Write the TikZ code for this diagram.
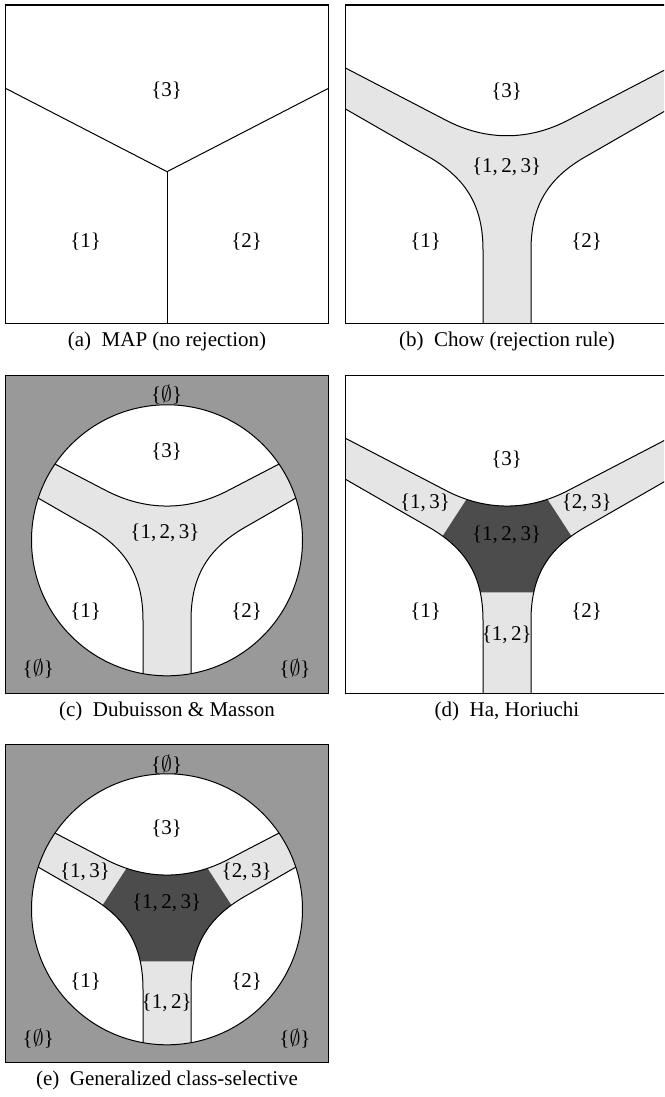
\documentclass[tikz,border=0pt]{standalone}
\usepackage{fontspec}
\setmainfont{Liberation Serif}
\definecolor{lightband}{gray}{0.9}
\definecolor{outergray}{gray}{0.6}
\definecolor{coregray}{gray}{0.3}
\tikzset{
  frame/.style={draw=black, line width=0.6pt},
  bound/.style={draw=black, line width=0.5pt},
  lab/.style={font=\fontsize{10.5}{12}\selectfont, inner sep=0pt},
  subcap/.style={font=\fontsize{10.5}{12}\selectfont, inner sep=0pt},
  upperc/.style={insert path={(0,63) -- (100,115) .. controls (140,136) and (183,136) .. (223,115) -- (323,63)}},
  lowerl/.style={insert path={(0,104) -- (80,150) .. controls (120,172) and (137.5,200) .. (137.5,245) -- (137.5,318.5)}},
  lowerr/.style={insert path={(323,104) -- (243,150) .. controls (203,172) and (185.5,200) .. (185.5,245) -- (185.5,318.5)}},
  bandshape/.style={insert path={(0,63) -- (100,115) .. controls (140,136) and (183,136) .. (223,115) -- (323,63)
      -- (323,104) -- (243,150) .. controls (203,172) and (185.5,200) .. (185.5,245) -- (185.5,318.5)
      -- (137.5,318.5) -- (137.5,245) .. controls (137.5,200) and (120,172) .. (80,150) -- (0,104) -- cycle}},
  coreshape/.style={insert path={(134,104) -- (189,104) -- (262.4,217) -- (60.6,217) -- cycle}},
}
\begin{document}
\begin{tikzpicture}[x=0.5pt,y=-0.5pt]
\useasboundingbox (0,0) rectangle (664,1097);
\clip (0,0) rectangle (664,1097);

% ---------- (a) ----------
\begin{scope}[shift={(5.5,5)}]
  \draw[bound] (0,83.3) -- (161.5,166.7) -- (323,83.3);
  \draw[bound] (161.5,166.7) -- (161.5,318.5);
  \draw[frame] (0,0) rectangle (323,318.5);
  \node[lab] (a3) at (161.2,85.7) {\{3\}};
  \node[lab] (a1) at (80.2,236.7) {\{1\}};
  \node[lab] (a2) at (241.2,236.7) {\{2\}};
  \node[subcap] (capa) at (161.5,336) {(a)\hspace{0.5em}MAP (no rejection)};
\end{scope}

% ---------- (b) ----------
\begin{scope}[shift={(345.5,5)}]
  \fill[lightband, bandshape];
  \draw[bound, upperc];
  \draw[bound, lowerl];
  \draw[bound, lowerr];
  \draw[frame] (0,0) rectangle (323,318.5);
  \node[lab] (b3) at (161.2,86.7) {\{3\}};
  \node[lab] (b123) at (161.2,161.7) {\{1,\,2,\,3\}};
  \node[lab] (b1) at (80.2,236.7) {\{1\}};
  \node[lab] (b2) at (241.2,236.7) {\{2\}};
  \node[subcap] (capb) at (161.5,336) {(b)\hspace{0.5em}Chow (rejection rule)};
\end{scope}

% ---------- (c) ----------
\begin{scope}[shift={(5.5,375.3)}]
  \fill[outergray] (0,0) rectangle (323,318.5);
  \fill[white] (161.5,165) circle (135.5);
  \begin{scope}
    \clip (161.5,165) circle (135.5);
    \fill[lightband, bandshape];
    \draw[bound, upperc];
    \draw[bound, lowerl];
    \draw[bound, lowerr];
  \end{scope}
  \draw[bound] (161.5,165) circle (135.5);
  \draw[frame] (0,0) rectangle (323,318.5);
  \node[lab] (c0t) at (161.2,19.7) {\{$\emptyset$\}};
  \node[lab] (c3) at (161.2,76.4) {\{3\}};
  \node[lab] (c123) at (159.5,158) {\{1,\,2,\,3\}};
  \node[lab] (c1) at (80.2,236.4) {\{1\}};
  \node[lab] (c2) at (241.2,236.4) {\{2\}};
  \node[lab] (c0l) at (32.8,293) {\{$\emptyset$\}};
  \node[lab] (c0r) at (289.5,293) {\{$\emptyset$\}};
  \node[subcap] (capc) at (161.5,335.7) {(c)\hspace{0.5em}Dubuisson \& Masson};
\end{scope}

% ---------- (d) ----------
\begin{scope}[shift={(345.5,375.3)}]
  \fill[lightband, bandshape];
  \begin{scope}
    \clip[bandshape];
    \fill[coregray, coreshape];
  \end{scope}
  \draw[bound, upperc];
  \draw[bound, lowerl];
  \draw[bound, lowerr];
  \draw[frame] (0,0) rectangle (323,318.5);
  \node[lab] (d3) at (161.2,84.7) {\{3\}};
  \node[lab] (d13) at (79.5,128) {\{1,\,3\}};
  \node[lab] (d23) at (241.2,128) {\{2,\,3\}};
  \node[lab] (d123) at (161.2,159.7) {\{1,\,2,\,3\}};
  \node[lab] (d1) at (80.2,236.4) {\{1\}};
  \node[lab] (d2) at (241.2,236.4) {\{2\}};
  \node[lab] (d12) at (161.2,259.7) {\{1,\,2\}};
  \node[subcap] (capd) at (161.5,335.7) {(d)\hspace{0.5em}Ha, Horiuchi};
\end{scope}

% ---------- (e) ----------
\begin{scope}[shift={(5.5,744.3)}]
  \fill[outergray] (0,0) rectangle (323,318.5);
  \fill[white] (161.5,165) circle (135.5);
  \begin{scope}
    \clip (161.5,165) circle (135.5);
    \fill[lightband, bandshape];
    \begin{scope}
      \clip[bandshape];
      \fill[coregray, coreshape];
    \end{scope}
    \draw[bound, upperc];
    \draw[bound, lowerl];
    \draw[bound, lowerr];
  \end{scope}
  \draw[bound] (161.5,165) circle (135.5);
  \draw[frame] (0,0) rectangle (323,318.5);
  \node[lab] (e0t) at (161.2,20.7) {\{$\emptyset$\}};
  \node[lab] (e3) at (161.2,84) {\{3\}};
  \node[lab] (e13) at (79.5,127.4) {\{1,\,3\}};
  \node[lab] (e23) at (241.2,127.4) {\{2,\,3\}};
  \node[lab] (e123) at (161.2,159) {\{1,\,2,\,3\}};
  \node[lab] (e1) at (80.2,237.4) {\{1\}};
  \node[lab] (e2) at (241.2,237.4) {\{2\}};
  \node[lab] (e12) at (161.2,259) {\{1,\,2\}};
  \node[lab] (e0l) at (32.8,294) {\{$\emptyset$\}};
  \node[lab] (e0r) at (289.5,294) {\{$\emptyset$\}};
  \node[subcap] (cape) at (161.5,335.7) {(e)\hspace{0.5em}Generalized class-selective};
\end{scope}
\end{tikzpicture}
\end{document}
